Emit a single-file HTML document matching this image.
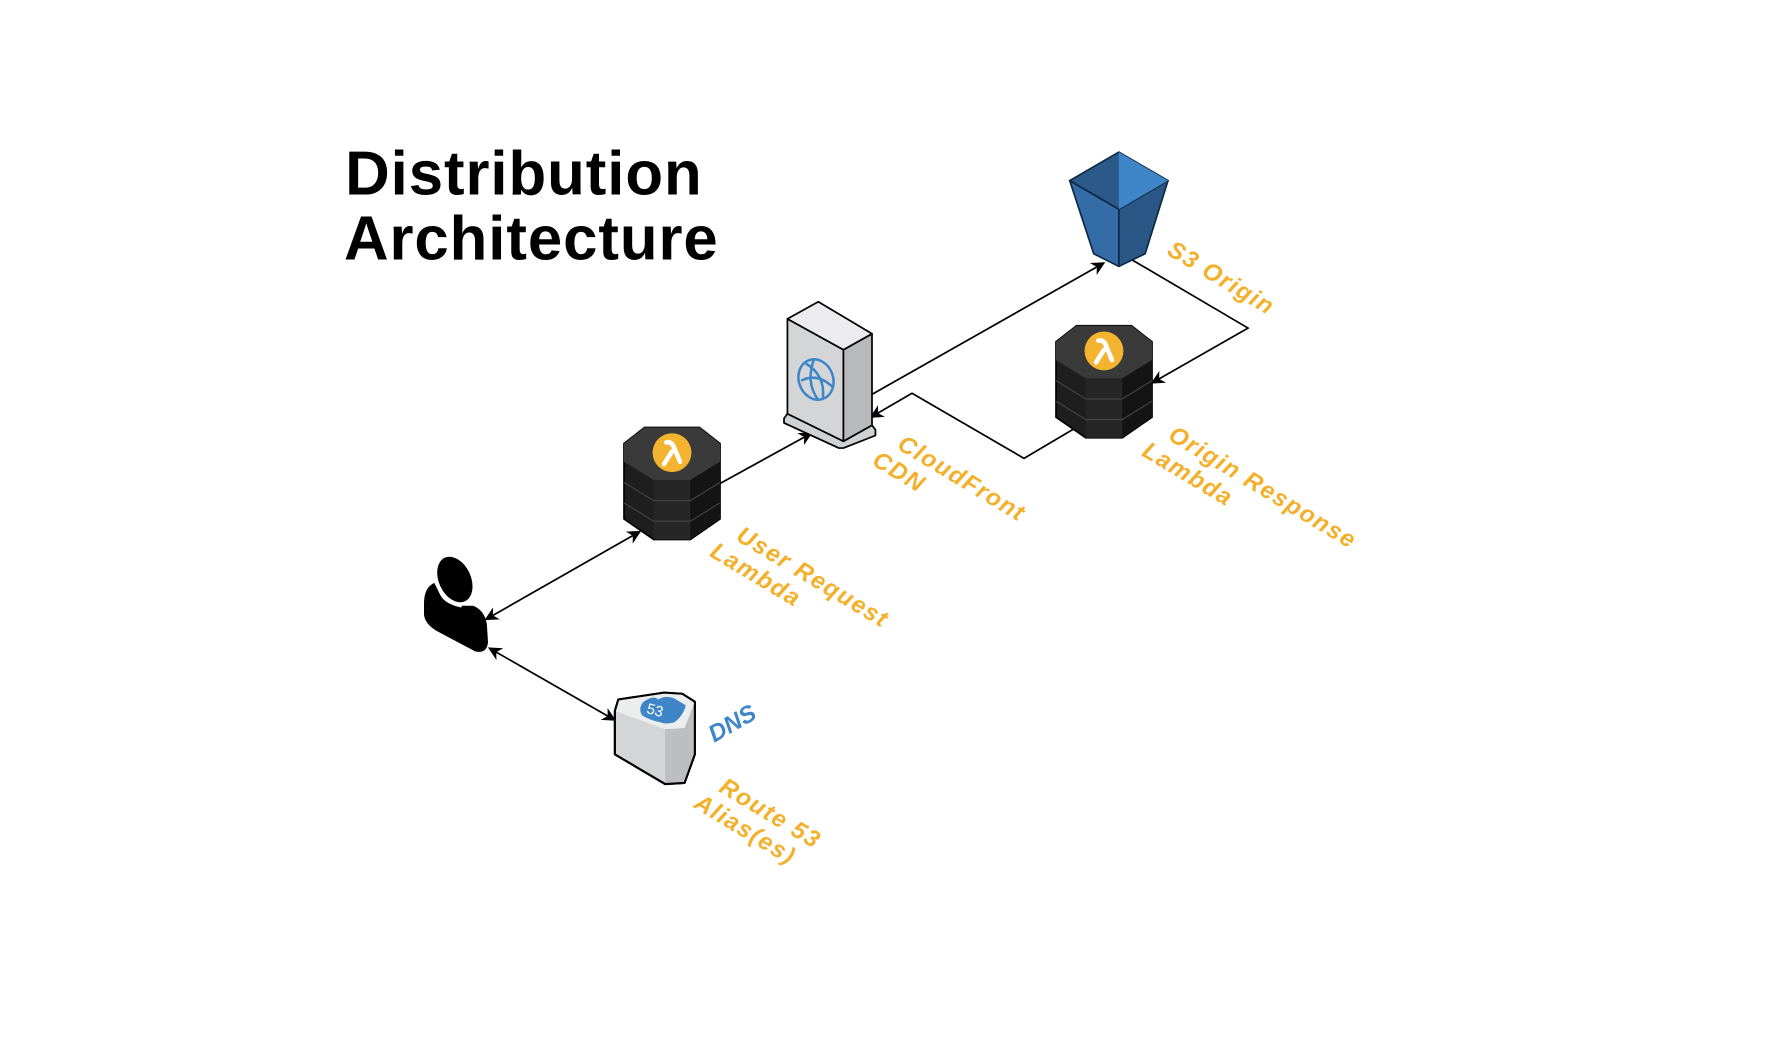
<!DOCTYPE html>
<html><head><meta charset="utf-8"><style>
html,body{margin:0;padding:0;background:#fff;}
svg{display:block}
text{font-family:"Liberation Sans",sans-serif;}
.lbl{fill:#F4B02A;font-weight:bold;font-size:21px;font-style:italic;letter-spacing:1.3px}
</style></head><body>
<svg width="1792" height="1063" viewBox="0 0 1568 930" xmlns="http://www.w3.org/2000/svg">
<defs>
<marker id="ah" viewBox="0 0 10 10" refX="9" refY="5" markerWidth="14" markerHeight="12" orient="auto-start-reverse" markerUnits="userSpaceOnUse"><path d="M0,0 L10,5 L0,10 L3,5 z" fill="#000"/></marker>
<g id="lam">
<polygon points="18,0 66,0 84,14 84,80 58,98 26,98 0,80 0,14" fill="#1e1e1e" stroke="#000" stroke-width="1.5"/>
<polygon points="18,0 66,0 84,14 84,30 58,46 26,46 0,30 0,14" fill="#3a3a3a"/>
<polygon points="26,46 58,46 58,98 26,98" fill="#262626"/>
<polygon points="58,46 84,30 84,80 58,98" fill="#141414"/>
<path d="M0,48 L26,64 L58,64 L84,48 M0,66 L26,82 L58,82 L84,66" stroke="#444" stroke-width="1" fill="none"/>
<circle cx="42" cy="22" r="17" fill="#F4B430"/>
<path d="M35,32 L42,21 M37,13 Q42,12 44,18 L49,30" stroke="#fff" stroke-width="4" fill="none" stroke-linecap="round"/>
</g>
</defs>

<text x="302" y="170" font-size="54" font-weight="bold" fill="#000" textLength="312">Distribution</text>
<text x="301" y="227" font-size="54" font-weight="bold" fill="#000" textLength="327">Architecture</text>

<g stroke="#000" stroke-width="1.5" fill="none">
<line x1="425" y1="542" x2="560" y2="465" marker-start="url(#ah)" marker-end="url(#ah)"/>
<line x1="428" y1="567" x2="538" y2="630" marker-start="url(#ah)" marker-end="url(#ah)"/>
<line x1="630" y1="423" x2="710" y2="379" marker-end="url(#ah)"/>
<line x1="763" y1="345" x2="966" y2="230" marker-end="url(#ah)"/>
<polyline points="990,227 1092,287 1008,335" marker-end="url(#ah)"/>
<polyline points="940,375 896,401 798,344 762,365" marker-end="url(#ah)"/>
</g>

<g stroke="#0e2a45" stroke-width="1.5" stroke-linejoin="round">
<polygon points="936,158 979,183 979,233 957,222" fill="#336ca6"/>
<polygon points="1022,158 979,183 979,233 1002,222" fill="#2a5785"/>
<polygon points="979,133 1022,158 979,183 936,158" fill="#2b5a8a"/>
<polygon points="979,133 1022,158 979,183" fill="#3f86c8" stroke="none"/>
</g>

<g stroke="#000" stroke-width="1.5" stroke-linejoin="round">
<polygon points="686,366 689,362 738,386 763,372 766,376 766,381 738,392 734,392 686,370" fill="#d0d1d3"/>
<polygon points="689,279 738,306 738,386 689,362" fill="#d4d5d7"/>
<polygon points="738,306 763,292 763,372 738,386" fill="#b8b9bb"/>
<polygon points="716,264 763,292 738,306 689,279" fill="#ececee"/>
</g>
<g stroke="#3f86c8" stroke-width="2.2" fill="none">
<ellipse cx="714" cy="332" rx="15" ry="18" transform="rotate(-20 714 332)"/>
<path d="M705,318 Q722,328 720,348 M701,333 Q715,326 728,338 M712,315 Q705,335 716,350"/>
</g>

<use href="#lam" x="546" y="374"/>
<use href="#lam" x="924" y="285"/>

<g fill="#000">
<ellipse cx="398" cy="507" rx="14" ry="21" transform="rotate(-25 398 507)"/>
<path d="M380,510 Q371,514 371,528 L371,538 Q372,546 382,552 L416,570 Q426,572 427,562 L426,546 Q424,534 414,530 L400,530 Q388,528 384,518 z"/>
</g>
<path d="M384,514 Q390,528 404,530" stroke="#fff" stroke-width="3" fill="none"/>

<g stroke="#000" stroke-width="1.8" stroke-linejoin="round">
<polygon points="541,612 581,606 597,607 608,614 608,660 599,685 582,686 538,660 538,622" fill="#d4d5d7"/>
<polygon points="541,612 581,606 597,607 608,614 599,637 582,638 538,622" fill="#eceded" stroke="none"/>
<polygon points="582,638 599,637 608,614 608,660 599,685 582,686" fill="#bdbec0" stroke="none"/>
<polygon points="541,612 581,606 597,607 608,614 608,660 599,685 582,686 538,660 538,622" fill="none"/>
</g>
<path d="M563,614 Q572,608 576,612 Q582,608 590,611 L600,617 Q598,626 590,632 Q582,634 578,632 Q568,630 562,626 Q558,620 563,614 z" fill="#3f86c8"/>
<text x="566" y="627" font-size="13" fill="#fff" transform="rotate(15 578 622)">53</text>

<text class="lbl" transform="translate(1020,222) rotate(31)">S3 Origin</text>
<text class="lbl" transform="translate(784,392) rotate(31)">CloudFront</text>
<text class="lbl" transform="translate(762,406) rotate(31)">CDN</text>
<text class="lbl" transform="translate(1021,384) rotate(31)">Origin Response</text>
<text class="lbl" transform="translate(998,398) rotate(31)">Lambda</text>
<text class="lbl" transform="translate(643,472) rotate(31)">User Request</text>
<text class="lbl" transform="translate(620,486) rotate(31)">Lambda</text>
<text class="lbl" transform="translate(628,692) rotate(31)">Route 53</text>
<text class="lbl" transform="translate(606,706) rotate(31)">Alias(es)</text>
<text transform="translate(625,650) rotate(-30)" font-size="21" font-style="italic" font-weight="bold" fill="#3f86c8">DNS</text>
</svg>
</body></html>
